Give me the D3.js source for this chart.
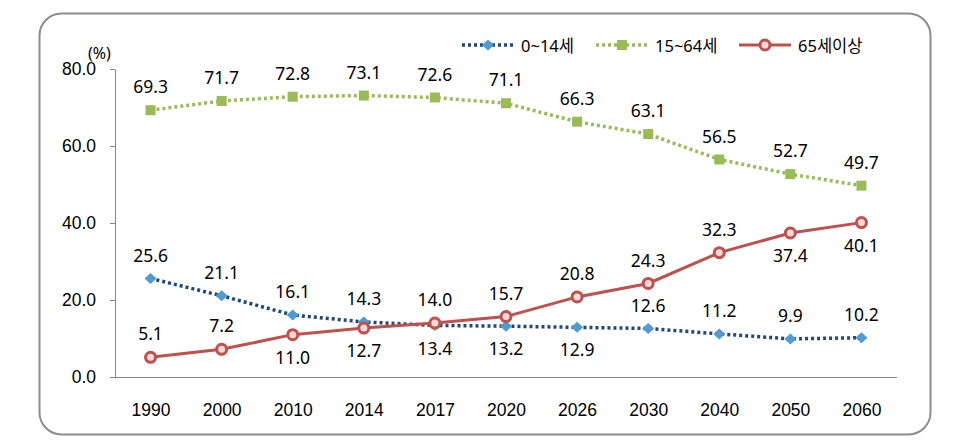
<!DOCTYPE html>
<html><head><meta charset="utf-8">
<script src="https://cdn.jsdelivr.net/npm/d3@7"></script>
<style>body{margin:0;background:#fff;}svg{display:block;font-family:"Noto Sans","Noto Sans CJK KR",sans-serif;}</style>
</head><body><svg id="c" width="958" height="444"></svg>
<script>
const years = ["1990","2000","2010","2014","2017","2020","2026","2030","2040","2050","2060"];
const young = [25.6,21.1,16.1,14.3,13.4,13.2,12.9,12.6,11.2,9.9,10.2];
const working = [69.3,71.7,72.8,73.1,72.6,71.1,66.3,63.1,56.5,52.7,49.7];
const elderly = [5.1,7.2,11.0,12.7,14.0,15.7,20.8,24.3,32.3,37.4,40.1];
const yTicks = [0,20,40,60,80];
const seriesNames = ["0~14세","15~64세","65세이상"];
// label placement: 1 = above, -1 = below
const youngPos = [1,1,1,1,-1,-1,-1,1,1,1,1];
const workingPos = [1,1,1,1,1,1,1,1,1,1,1];
const elderlyPos = [1,1,-1,-1,1,1,1,1,1,-1,-1];

const svg = d3.select("#c");
svg.append("rect").attr("x",39.5).attr("y",13.5).attr("width",891).attr("height",421)
  .attr("rx",22).attr("fill","#fff").attr("stroke","#8c8c8c").attr("stroke-width",2);

const x = d3.scalePoint().domain(years).range([115,897]).padding(0.5);
const y = d3.scaleLinear().domain([0,80]).range([377,69]);

// y axis
const ya = svg.append("g").attr("transform","translate(115,0)")
  .call(d3.axisLeft(y).tickValues(yTicks).tickFormat(d3.format(".1f")).tickSize(5).tickSizeOuter(0));
ya.select(".domain").attr("stroke","#868686");
ya.selectAll(".tick line").attr("stroke","#868686");
ya.selectAll("text").attr("font-size",17.5).attr("fill","#000").attr("x",-19);
// x axis
const xa = svg.append("g").attr("transform","translate(0,377)")
  .call(d3.axisBottom(x).tickSize(0));
xa.select(".domain").attr("stroke","#868686").attr("d","M110,0.5H897");
xa.selectAll("text").attr("font-size",17.5).attr("fill","#000").attr("dy","0").attr("y",39);

svg.append("text").attr("x",88).attr("y",59).attr("font-size",16).text("(%)");

const series = [
  {vals:young, pos:youngPos, color:"#1F497D", dash:"3,3", w:3.5, marker:"diamond", mfill:"#4F9BD3"},
  {vals:working, pos:workingPos, color:"#9BBB59", dash:"3,3", w:3.5, marker:"square", mfill:"#9BBB59"},
  {vals:elderly, pos:elderlyPos, color:"#C0504D", dash:null, w:3, marker:"circle", mfill:"#F2DCDB"}
];
const line = d3.line().x((d,i)=>x(years[i])).y(d=>y(d));

function drawMarker(g, type, cx, cy, s){
  if(type==="diamond"){
    g.append("path").attr("d",`M${cx-6},${cy}L${cx},${cy-5.5}L${cx+6},${cy}L${cx},${cy+5.5}Z`).attr("fill",s.mfill);
  } else if(type==="square"){
    g.append("rect").attr("x",cx-5).attr("y",cy-5).attr("width",10).attr("height",10).attr("fill",s.mfill);
  } else {
    g.append("circle").attr("cx",cx).attr("cy",cy).attr("r",5).attr("fill",s.mfill).attr("stroke",s.color).attr("stroke-width",3);
  }
}

series.forEach(s=>{
  const g = svg.append("g");
  g.append("path").attr("d",line(s.vals)).attr("fill","none").attr("stroke",s.color)
   .attr("stroke-width",s.w).attr("stroke-dasharray",s.dash);
  s.vals.forEach((v,i)=>drawMarker(g,s.marker,x(years[i]),y(v),s));
});
series.forEach(s=>{
  s.vals.forEach((v,i)=>{
    svg.append("text").attr("x",x(years[i])).attr("y",y(v)-s.pos[i]*23)
      .attr("dy","0.35em").attr("text-anchor","middle").attr("font-size",17.5).attr("fill","#000")
      .text(v.toFixed(1));
  });
});

// legend
const legX = [462,596,739];
series.forEach((s,k)=>{
  const g = svg.append("g");
  const x0 = legX[k], x1 = x0+52, ly = 45;
  g.append("line").attr("x1",x0).attr("x2",x1).attr("y1",ly).attr("y2",ly)
    .attr("stroke",s.color).attr("stroke-width",s.w).attr("stroke-dasharray",s.dash);
  drawMarker(g,s.marker,(x0+x1)/2,ly,s);
  g.append("text").attr("x",x1+7).attr("y",ly+1).attr("dy","0.35em").attr("font-size",16.5).text(seriesNames[k]);
});
</script></body></html>
